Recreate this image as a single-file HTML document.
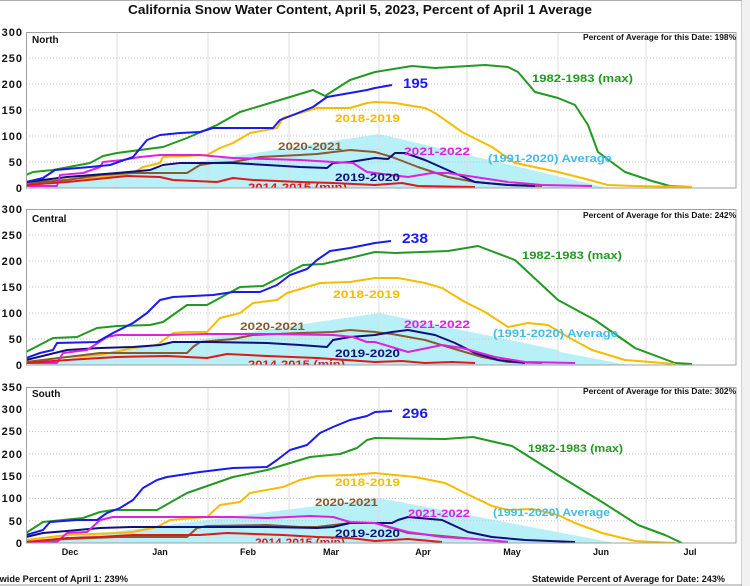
<!DOCTYPE html>
<html><head><meta charset="utf-8"><style>
html,body{margin:0;padding:0;background:#fff;}
svg{display:block;}
text{font-family:"Liberation Sans",Arial,sans-serif;font-weight:bold;}
</style></head><body>
<svg width="750" height="586" viewBox="0 0 750 586" xmlns="http://www.w3.org/2000/svg">
<defs>
<clipPath id="cN"><rect x="26" y="32" width="710" height="156"/></clipPath>
<clipPath id="cC"><rect x="26" y="209" width="710" height="156"/></clipPath>
<clipPath id="cS"><rect x="26" y="387" width="710" height="156"/></clipPath>
</defs>
<rect x="0" y="0" width="750" height="586" fill="#fff"/>
<rect x="742" y="0" width="8" height="586" fill="#f1f1f1"/>
<line x1="741.5" y1="0" x2="741.5" y2="586" stroke="#d0d0d0"/>
<line x1="0" y1="0.5" x2="742" y2="0.5" stroke="#b0b0b0"/>
<line x1="0" y1="585" x2="742" y2="585" stroke="#999"/>

<text x="128" y="14" font-size="13" textLength="464" lengthAdjust="spacingAndGlyphs" fill="#111">California Snow Water Content, April 5, 2023, Percent of April 1 Average</text>

<!-- ================= NORTH ================= -->
<g>
<g clip-path="url(#cN)">
<polygon points="26,188 379,134 608,188" fill="#b8f0f8"/>
<g stroke="#c8c8c8" stroke-dasharray="1,2" stroke-width="1">
<line x1="26" y1="58" x2="736" y2="58"/><line x1="26" y1="84" x2="736" y2="84"/><line x1="26" y1="110" x2="736" y2="110"/><line x1="26" y1="136" x2="736" y2="136"/><line x1="26" y1="162" x2="736" y2="162"/>
</g>
<g stroke="#dcdcdc" stroke-width="1">
<line x1="117" y1="32" x2="117" y2="188"/><line x1="208" y1="32" x2="208" y2="188"/><line x1="289" y1="32" x2="289" y2="188"/><line x1="379" y1="32" x2="379" y2="188"/><line x1="467" y1="32" x2="467" y2="188"/><line x1="558" y1="32" x2="558" y2="188"/><line x1="646" y1="32" x2="646" y2="188"/>
</g>
<g fill="none" stroke-width="2" stroke-linejoin="round">
<polyline stroke="#229922" points="26,175 33,172 53,170 90,163 103,156 117,153 163,147 187,138 217,125 240,112 290,97 313,90 325,96 350,80 375,72 412,66 435,68 485,65 508,67 518,72 535,92 558,98 575,105 588,125 598,152 625,172 652,181 670,186 692,187"/>
<polyline stroke="#f5bc00" points="26,185 60,180 100,177 133,173 143,167 160,163 163,157 207,155 220,148 233,143 250,133 277,128 283,118 300,113 317,108 350,108 367,103 375,102 395,103 425,108 435,113 462,132 492,147 515,163 558,172 582,178 608,185 635,186 692,187"/>
<polyline stroke="#8a5a2e" points="26,183 67,180 100,175 133,173 187,173 200,165 213,163 233,162 260,157 300,155 317,154 350,150 375,152 392,157 418,167 448,177 475,182 508,185 542,186"/>
<polyline stroke="#10107a" points="26,182 67,177 117,173 150,170 163,165 180,163 233,163 267,165 300,167 327,168 333,163 350,162 375,158 388,159 395,153 405,153 425,160 452,172 475,182 508,185 535,186"/>
<polyline stroke="#e020e0" points="26,186 57,186 60,175 83,173 100,167 103,162 123,160 140,157 160,155 200,155 233,158 267,159 300,160 333,162 353,163 367,172 375,173 408,177 432,173 448,173 475,177 508,182 542,185 592,186"/>
<polyline stroke="#e01818" points="26,185 67,182 127,176 160,177 173,180 217,182 233,178 253,180 300,182 333,183 375,185 402,183 418,186 475,187"/>
<polyline stroke="#1a1aee" points="26,182 43,178 55,170 90,167 110,165 133,157 147,140 160,135 180,133 200,132 213,128 233,128 273,128 280,120 293,115 313,107 327,97 350,93 367,90 375,88 392,85"/>
</g>
<text x="248" y="191" font-size="11" textLength="99" lengthAdjust="spacingAndGlyphs" fill="#e01818">2014-2015 (min)</text>
</g>
<rect x="26.5" y="32.5" width="709.5" height="155.5" fill="none" stroke="#a0a0a0"/>
<text x="32" y="43" font-size="10" fill="#111">North</text>
<text x="583" y="40" font-size="8" textLength="153" lengthAdjust="spacingAndGlyphs" fill="#111">Percent of Average for this Date: 198%</text>
<text x="403" y="88" font-size="14" textLength="25" lengthAdjust="spacingAndGlyphs" fill="#1a1aee">195</text>
<text x="532" y="82" font-size="11" textLength="101" lengthAdjust="spacingAndGlyphs" fill="#229922">1982-1983 (max)</text>
<text x="335" y="122" font-size="11" textLength="65" lengthAdjust="spacingAndGlyphs" fill="#f5bc00">2018-2019</text>
<text x="278" y="150" font-size="11" textLength="64" lengthAdjust="spacingAndGlyphs" fill="#8a5a2e">2020-2021</text>
<text x="404" y="155" font-size="11" textLength="66" lengthAdjust="spacingAndGlyphs" fill="#e020e0">2021-2022</text>
<text x="488" y="162" font-size="11" textLength="124" lengthAdjust="spacingAndGlyphs" fill="#3fbde8">(1991-2020) Average</text>
<text x="335" y="181" font-size="11" textLength="65" lengthAdjust="spacingAndGlyphs" fill="#10107a">2019-2020</text>
<g font-size="11" fill="#111" text-anchor="end" letter-spacing="1">
<text x="23" y="36">300</text><text x="23" y="62">250</text><text x="23" y="88">200</text><text x="23" y="114">150</text><text x="23" y="140">100</text><text x="23" y="166">50</text><text x="23" y="192">0</text>
</g>
</g>

<!-- ================= CENTRAL ================= -->
<g>
<g clip-path="url(#cC)">
<polygon points="26,365 379,313 558,350 560,352 628,365" fill="#b8f0f8"/>
<g stroke="#c8c8c8" stroke-dasharray="1,2" stroke-width="1">
<line x1="26" y1="235" x2="736" y2="235"/><line x1="26" y1="261" x2="736" y2="261"/><line x1="26" y1="287" x2="736" y2="287"/><line x1="26" y1="313" x2="736" y2="313"/><line x1="26" y1="339" x2="736" y2="339"/>
</g>
<g stroke="#dcdcdc" stroke-width="1">
<line x1="117" y1="209" x2="117" y2="365"/><line x1="208" y1="209" x2="208" y2="365"/><line x1="289" y1="209" x2="289" y2="365"/><line x1="379" y1="209" x2="379" y2="365"/><line x1="467" y1="209" x2="467" y2="365"/><line x1="558" y1="209" x2="558" y2="365"/><line x1="646" y1="209" x2="646" y2="365"/>
</g>
<g fill="none" stroke-width="2" stroke-linejoin="round">
<polyline stroke="#229922" points="26,352 53,338 77,337 97,328 117,326 150,325 163,322 187,305 207,305 240,287 263,286 303,265 323,264 350,258 375,252 395,253 448,251 478,246 515,260 558,300 595,320 635,348 675,363 692,364"/>
<polyline stroke="#f5bc00" points="26,362 67,357 100,355 133,348 157,345 173,333 187,332 207,332 220,318 240,313 253,303 277,300 287,293 307,287 320,283 350,282 375,278 398,278 425,283 442,288 465,302 485,312 508,327 528,323 548,325 568,337 592,350 625,360 675,364"/>
<polyline stroke="#8a5a2e" points="26,362 67,357 100,353 187,353 193,347 200,342 233,339 253,335 300,333 333,332 350,330 375,332 392,334 425,340 458,350 482,357 508,362 542,363"/>
<polyline stroke="#10107a" points="26,360 67,350 100,348 133,347 160,345 173,342 207,342 267,343 300,345 327,347 333,340 350,337 375,335 392,332 408,330 435,335 455,343 475,353 498,360 525,363"/>
<polyline stroke="#e020e0" points="26,363 57,363 63,353 87,350 107,337 117,335 167,335 207,334 267,334 333,335 353,337 367,342 375,342 408,352 442,345 462,348 495,357 525,362 575,363"/>
<polyline stroke="#e01818" points="26,363 67,360 117,357 167,356 207,358 227,354 267,356 317,358 375,362 402,361 425,363 452,362 475,363"/>
<polyline stroke="#1a1aee" points="26,358 40,353 53,350 57,343 97,342 113,333 133,323 147,313 160,300 173,297 213,295 233,292 260,292 277,285 290,275 307,269 317,260 330,251 350,248 375,243 391,241"/>
</g>
<text x="248" y="368" font-size="11" textLength="97" lengthAdjust="spacingAndGlyphs" fill="#e01818">2014-2015 (min)</text>
</g>
<rect x="26.5" y="209.5" width="709.5" height="155.5" fill="none" stroke="#a0a0a0"/>
<text x="32" y="222" font-size="10" fill="#111">Central</text>
<text x="583" y="218" font-size="8" textLength="153" lengthAdjust="spacingAndGlyphs" fill="#111">Percent of Average for this Date: 242%</text>
<text x="402" y="243" font-size="14" textLength="26" lengthAdjust="spacingAndGlyphs" fill="#1a1aee">238</text>
<text x="522" y="259" font-size="11" textLength="100" lengthAdjust="spacingAndGlyphs" fill="#229922">1982-1983 (max)</text>
<text x="333" y="298" font-size="11" textLength="67" lengthAdjust="spacingAndGlyphs" fill="#f5bc00">2018-2019</text>
<text x="240" y="330" font-size="11" textLength="65" lengthAdjust="spacingAndGlyphs" fill="#8a5a2e">2020-2021</text>
<text x="404" y="328" font-size="11" textLength="66" lengthAdjust="spacingAndGlyphs" fill="#e020e0">2021-2022</text>
<text x="493" y="337" font-size="11" textLength="125" lengthAdjust="spacingAndGlyphs" fill="#3fbde8">(1991-2020) Average</text>
<text x="335" y="357" font-size="11" textLength="65" lengthAdjust="spacingAndGlyphs" fill="#10107a">2019-2020</text>
<g font-size="11" fill="#111" text-anchor="end" letter-spacing="1">
<text x="23" y="213">300</text><text x="23" y="239">250</text><text x="23" y="265">200</text><text x="23" y="291">150</text><text x="23" y="317">100</text><text x="23" y="343">50</text><text x="23" y="369">0</text>
</g>
</g>

<!-- ================= SOUTH ================= -->
<g>
<g clip-path="url(#cS)">
<polygon points="26,543 379,498 615,543" fill="#b8f0f8"/>
<g stroke="#c8c8c8" stroke-dasharray="1,2" stroke-width="1">
<line x1="26" y1="409.3" x2="736" y2="409.3"/><line x1="26" y1="431.6" x2="736" y2="431.6"/><line x1="26" y1="453.9" x2="736" y2="453.9"/><line x1="26" y1="476.1" x2="736" y2="476.1"/><line x1="26" y1="498.4" x2="736" y2="498.4"/><line x1="26" y1="520.7" x2="736" y2="520.7"/>
</g>
<g stroke="#dcdcdc" stroke-width="1">
<line x1="117" y1="387" x2="117" y2="543"/><line x1="208" y1="387" x2="208" y2="543"/><line x1="289" y1="387" x2="289" y2="543"/><line x1="379" y1="387" x2="379" y2="543"/><line x1="467" y1="387" x2="467" y2="543"/><line x1="558" y1="387" x2="558" y2="543"/><line x1="646" y1="387" x2="646" y2="543"/>
</g>
<g fill="none" stroke-width="2" stroke-linejoin="round">
<polyline stroke="#229922" points="26,533 43,522 83,518 100,512 113,510 157,510 187,493 233,477 267,470 310,457 340,454 357,448 367,440 375,438 445,439 473,437 512,446 558,475 602,502 638,525 665,535 682,543"/>
<polyline stroke="#f5bc00" points="26,540 67,535 117,533 133,532 157,527 170,520 207,517 220,505 240,502 250,493 283,487 300,480 317,476 350,475 375,473 415,477 445,483 465,493 492,506 508,510 532,509 558,515 575,523 602,533 635,541 675,543"/>
<polyline stroke="#8a5a2e" points="26,542 67,539 117,537 187,537 197,528 207,526 267,525 300,527 317,527 350,523 375,523 408,533 442,536 475,539 508,542"/>
<polyline stroke="#10107a" points="26,537 43,533 67,531 100,528 133,527 267,527 317,528 333,527 350,523 375,523 392,523 398,520 408,517 442,520 468,532 492,537 525,540 575,542"/>
<polyline stroke="#e020e0" points="26,542 57,542 67,533 87,532 100,520 113,517 233,517 267,518 310,516 333,517 350,522 375,523 408,532 442,537 475,539 508,542"/>
<polyline stroke="#e01818" points="26,542 67,538 100,537 133,535 200,535 227,533 283,535 317,537 350,538 375,541 408,539 442,542"/>
<polyline stroke="#1a1aee" points="26,535 43,530 50,522 77,520 97,520 107,513 120,508 133,500 143,488 157,480 167,477 200,472 233,468 267,467 277,460 290,450 307,445 320,433 333,427 350,420 367,416 375,412 392,411"/>
</g>
<text x="255" y="546" font-size="11" textLength="90" lengthAdjust="spacingAndGlyphs" fill="#e01818">2014-2015 (min)</text>
</g>
<rect x="26.5" y="387.5" width="709.5" height="155.5" fill="none" stroke="#a0a0a0"/>
<text x="32" y="397" font-size="10" fill="#111">South</text>
<text x="583" y="394" font-size="8" textLength="153" lengthAdjust="spacingAndGlyphs" fill="#111">Percent of Average for this Date: 302%</text>
<text x="402" y="418" font-size="14" textLength="26" lengthAdjust="spacingAndGlyphs" fill="#1a1aee">296</text>
<text x="528" y="452" font-size="11" textLength="95" lengthAdjust="spacingAndGlyphs" fill="#229922">1982-1983 (max)</text>
<text x="335" y="486" font-size="11" textLength="65" lengthAdjust="spacingAndGlyphs" fill="#f5bc00">2018-2019</text>
<text x="315" y="506" font-size="11" textLength="63" lengthAdjust="spacingAndGlyphs" fill="#8a5a2e">2020-2021</text>
<text x="408" y="517" font-size="11" textLength="62" lengthAdjust="spacingAndGlyphs" fill="#e020e0">2021-2022</text>
<text x="493" y="516" font-size="11" textLength="117" lengthAdjust="spacingAndGlyphs" fill="#3fbde8">(1991-2020) Average</text>
<text x="335" y="537" font-size="11" textLength="65" lengthAdjust="spacingAndGlyphs" fill="#10107a">2019-2020</text>
<g font-size="11" fill="#111" text-anchor="end" letter-spacing="1">
<text x="23" y="391">350</text><text x="23" y="413">300</text><text x="23" y="435">250</text><text x="23" y="458">200</text><text x="23" y="480">150</text><text x="23" y="502">100</text><text x="23" y="525">50</text><text x="23" y="547">0</text>
</g>
<g font-size="9" fill="#111" text-anchor="middle">
<text x="70" y="555">Dec</text><text x="160" y="555">Jan</text><text x="248" y="555">Feb</text><text x="331" y="555">Mar</text><text x="423" y="555">Apr</text><text x="512" y="555">May</text><text x="601" y="555">Jun</text><text x="690" y="555">Jul</text>
</g>
</g>

<text x="-23" y="582" font-size="9" textLength="151" lengthAdjust="spacingAndGlyphs" fill="#111">Statewide Percent of April 1: 239%</text>
<text x="532" y="582" font-size="9" textLength="193" lengthAdjust="spacingAndGlyphs" fill="#111">Statewide Percent of Average for Date: 243%</text>
</svg>
</body></html>
